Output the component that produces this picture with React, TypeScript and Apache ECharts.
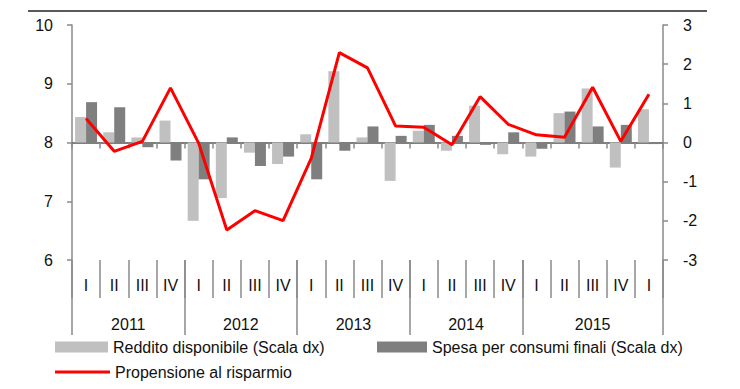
import React, { useEffect, useRef } from "react";
import * as echarts from "echarts";

const quarters = ["I", "II", "III", "IV", "I", "II", "III", "IV", "I", "II", "III", "IV", "I", "II", "III", "IV", "I", "II", "III", "IV", "I"];
const years = ["2011", "2012", "2013", "2014", "2015"];
const yearQuarterCounts = [4, 4, 4, 4, 5];

const reddito = [0.65, 0.26, 0.13, 0.56, -2.0, -1.42, -0.26, -0.55, 0.21, 1.82, 0.13, -0.98, 0.3, -0.21, 0.94, -0.3, -0.36, 0.75, 1.38, -0.64, 0.85];
const spesa = [1.03, 0.9, -0.12, -0.46, -0.94, 0.13, -0.6, -0.36, -0.94, -0.21, 0.41, 0.17, 0.45, 0.17, -0.06, 0.26, -0.16, 0.79, 0.41, 0.45, -0.04];
const propensione = [8.41, 7.85, 8.02, 8.93, 7.99, 6.51, 6.84, 6.67, 7.73, 9.53, 9.27, 8.28, 8.26, 7.96, 8.78, 8.31, 8.13, 8.09, 8.94, 8.02, 8.82];

const leftTicks = { min: 6, max: 10, interval: 1 };
const rightTicks = { min: -3, max: 3, interval: 1 };

const FONT = "'Liberation Sans', Arial, sans-serif";
const FS = 16;

export default function App() {
  const ref = useRef<HTMLDivElement>(null);
  useEffect(() => {
    if (!ref.current) return;
    const chart = echarts.init(ref.current, undefined, { renderer: "svg" });

    // half-quarter slots for year axis (boundaryGap false)
    const total = yearQuarterCounts.reduce((a, b) => a + b, 0);
    const slots: string[] = new Array(total * 2 + 1).fill("");
    const yearTickSlots: number[] = [0];
    let start = 0;
    years.forEach((y, i) => {
      const c = yearQuarterCounts[i];
      slots[start * 2 + c] = y;
      start += c;
      yearTickSlots.push(start * 2);
    });

    const axisGray = "#8a8a8a";
    const textCol = "#111";

    chart.setOption({
      animation: false,
      textStyle: { fontFamily: FONT },
      grid: { left: 72, right: 77, top: 25, bottom: 129, containLabel: false },
      graphic: [
        {
          type: "line",
          shape: { x1: 28, y1: 11, x2: 707, y2: 11 },
          style: { stroke: "#222", lineWidth: 1.5 },
        },
      ],
      legend: [
        {
          data: ["Reddito disponibile (Scala dx)"],
          left: 55, top: 339, padding: 0, icon: "rect", itemWidth: 53, itemHeight: 11,
          textStyle: { fontFamily: FONT, fontSize: FS, color: textCol },
        },
        {
          data: ["Spesa per consumi finali (Scala dx)"],
          left: 377, top: 339, padding: 0, icon: "rect", itemWidth: 50, itemHeight: 11,
          textStyle: { fontFamily: FONT, fontSize: FS, color: textCol },
        },
        {
          data: ["Propensione al risparmio"],
          left: 55, top: 364, padding: 0, icon: "rect", itemWidth: 55, itemHeight: 3,
          textStyle: { fontFamily: FONT, fontSize: FS, color: textCol },
        },
      ],
      xAxis: [
        {
          type: "category",
          data: quarters,
          position: "bottom",
          axisLine: { onZero: true, onZeroAxisIndex: 1, lineStyle: { color: "#555", width: 1.5 } },
          axisTick: { show: true, length: 6, interval: 0, lineStyle: { color: axisGray, width: 1.5 } },
          axisLabel: { show: false },
          splitLine: { show: false },
        },
        {
          type: "category",
          data: quarters,
          position: "bottom",
          offset: 0,
          axisLine: { show: false, onZero: false },
          axisTick: { show: true, length: 38, interval: 0, lineStyle: { color: axisGray, width: 1.5 } },
          axisLabel: { show: true, interval: 0, margin: 17, fontFamily: FONT, fontSize: FS, color: textCol },
          splitLine: { show: false },
        },
        {
          type: "category",
          data: slots,
          boundaryGap: false,
          position: "bottom",
          offset: 0,
          axisLine: { show: false, onZero: false },
          axisTick: {
            show: true,
            length: 75,
            interval: (i: number) => yearTickSlots.indexOf(i) >= 0,
            lineStyle: { color: axisGray, width: 1.5 },
          },
          axisLabel: { show: true, interval: 0, margin: 56, fontFamily: FONT, fontSize: FS, color: textCol },
          splitLine: { show: false },
        },
      ],
      yAxis: [
        {
          type: "value",
          position: "left",
          min: leftTicks.min,
          max: leftTicks.max,
          interval: leftTicks.interval,
          axisLine: { show: true, lineStyle: { color: axisGray, width: 1.5 } },
          axisTick: { show: true, length: 5, lineStyle: { color: axisGray, width: 1.5 } },
          axisLabel: { margin: 19, fontFamily: FONT, fontSize: FS, color: textCol },
          splitLine: { show: false },
        },
        {
          type: "value",
          position: "right",
          min: rightTicks.min,
          max: rightTicks.max,
          interval: rightTicks.interval,
          axisLine: { show: true, lineStyle: { color: axisGray, width: 1.5 } },
          axisTick: { show: true, length: 5, lineStyle: { color: axisGray, width: 1.5 } },
          axisLabel: { margin: 20, fontFamily: FONT, fontSize: FS, color: textCol },
          splitLine: { show: false },
        },
      ],
      series: [
        {
          name: "Reddito disponibile (Scala dx)",
          type: "bar",
          xAxisIndex: 0,
          yAxisIndex: 1,
          data: reddito,
          barWidth: 11,
          barGap: "0%",
          itemStyle: { color: "#c0c0c0" },
          z: 2,
        },
        {
          name: "Spesa per consumi finali (Scala dx)",
          type: "bar",
          xAxisIndex: 0,
          yAxisIndex: 1,
          data: spesa,
          barWidth: 11,
          barGap: "0%",
          itemStyle: { color: "#7f7f7f" },
          z: 2,
        },
        {
          name: "Propensione al risparmio",
          type: "line",
          xAxisIndex: 0,
          yAxisIndex: 0,
          data: propensione,
          symbol: "none",
          lineStyle: { color: "#ff0000", width: 3 },
          itemStyle: { color: "#ff0000" },
          z: 5,
        },
      ],
    });
    return () => chart.dispose();
  }, []);
  return <div ref={ref} style={{ position: "absolute", left: 0, top: 0, width: 740, height: 389 }} />;
}
